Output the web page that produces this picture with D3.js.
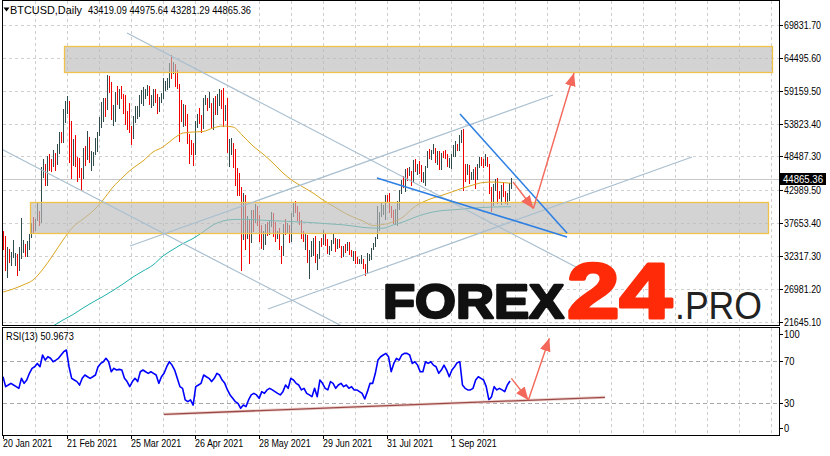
<!DOCTYPE html>
<html><head><meta charset="utf-8">
<script src="https://cdn.jsdelivr.net/npm/d3@7/dist/d3.min.js"></script>
<style>
html,body{margin:0;padding:0;background:#fff;}
svg{display:block;}
text{font-family:"Liberation Sans",Arial,sans-serif;}
</style></head><body>
<svg id="chart" width="830" height="456"></svg>
<script>
// ---------- DATA (prices in thousands USD, one bar per day from 20 Jan 2021) ----------
const opens = [
35.8,35.5,30.8,33.0,32.1,32.3,32.3,32.5,30.4,33.4,34.3,34.3,
33.1,33.5,35.5,37.6,36.9,38.3,39.2,38.9,46.4,46.5,44.9,47.9,47.4,47.1,48.7,47.9,49.1,52.1,51.6,55.9,55.9,57.5,54.2,48.8,49.7,47.1,46.3,46.2,
45.1,49.6,48.4,50.5,48.4,48.8,48.9,51.2,52.2,54.8,56.0,57.8,57.3,61.2,59.0,55.6,56.9,58.9,57.6,58.3,58.1,57.4,54.5,54.4,52.8,51.7,55.0,55.8,55.8,57.6,58.7,
58.9,59.0,59.0,57.1,58.2,59.1,57.6,56.0,58.0,58.1,59.8,59.8,59.8,63.5,62.9,63.2,61.5,60.1,56.3,55.7,56.5,53.8,51.7,51.1,50.1,49.0,54.0,55.0,54.8,53.6,
57.7,57.8,56.6,57.2,53.2,57.5,56.4,57.4,58.8,58.2,55.9,56.7,49.2,49.7,49.9,46.8,46.4,43.5,42.9,37.0,40.7,37.3,37.5,34.7,38.7,38.4,39.3,38.4,35.7,34.6,35.7,
37.3,36.7,37.6,39.2,36.9,35.5,35.8,33.6,33.4,37.4,36.7,37.3,35.6,39.1,40.5,40.1,38.3,38.1,35.8,35.5,35.6,31.7,32.5,33.7,34.7,31.6,32.2,34.6,34.4,35.9,
35.0,33.5,33.8,34.7,35.3,33.7,34.2,33.9,32.9,33.8,33.5,34.3,33.1,32.7,32.8,31.8,31.4,31.5,31.8,30.8,29.8,32.1,32.3,33.6,34.3,35.4,37.3,39.4,40.0,40.0,42.2,
41.5,39.9,39.2,38.2,39.7,40.9,42.8,44.6,43.8,46.3,45.6,45.6,44.4,47.8,47.1,47.1,45.9,44.7,44.8,46.7,49.3,48.9,49.3,49.5,47.7,48.9,47.0,49.1,48.9,48.8,47.0,
47.2,48.8,49.3,50.0,49.9,51.8,52.7,46.9,46.1,46.4,44.9,45.2,46.1,44.9,47.1,48.2,47.8,47.3,48.3,47.3,43.0,40.7,43.6,44.9,42.8,42.7,43.2,42.2,41.0,41.5,43.42];
const highs = [
36.4,35.6,33.8,33.4,32.9,34.9,32.8,32.6,33.8,38.5,34.9,34.3,
34.7,35.9,37.7,38.7,38.3,40.9,39.7,46.8,48.1,47.3,48.6,48.8,48.0,49.6,49.0,50.5,52.5,52.5,56.2,57.5,58.3,57.5,54.2,51.3,52.0,48.4,48.3,46.6,
49.8,50.2,52.6,51.7,49.3,49.2,51.4,52.4,54.9,57.3,58.0,58.0,61.7,61.6,60.5,56.9,58.9,60.0,59.4,59.9,58.6,58.4,55.8,57.2,53.4,55.1,56.6,56.6,58.4,59.3,59.8,
59.5,60.1,59.9,58.5,59.4,59.4,58.6,58.2,58.8,61.2,60.7,61.2,63.7,64.9,63.8,63.5,62.5,60.3,57.6,57.0,56.8,55.4,52.1,51.2,50.6,54.3,55.4,56.4,55.2,57.9,
58.4,57.9,58.9,57.2,57.9,58.3,58.6,59.5,59.2,59.6,56.8,57.9,51.3,51.4,50.6,49.7,46.6,45.8,43.5,42.5,42.2,38.8,38.3,39.8,39.8,40.8,40.4,38.9,37.3,36.4,37.5,
37.9,38.2,39.4,39.3,37.9,36.4,36.8,34.0,37.5,38.3,37.6,37.4,39.3,41.0,41.3,40.5,39.5,38.2,36.4,36.1,35.7,33.3,34.8,35.2,35.5,32.6,34.7,35.2,36.5,36.0,
35.0,33.9,34.9,35.9,35.3,35.0,35.0,33.9,34.0,34.2,34.6,34.6,33.3,33.1,33.2,32.2,31.9,32.4,31.9,31.0,32.8,32.6,33.6,34.4,35.4,40.5,39.5,40.9,40.6,42.3,42.3,
42.6,40.4,39.8,39.9,41.3,43.0,44.7,45.3,46.4,46.6,46.7,46.2,47.9,48.1,47.3,47.8,47.1,45.9,47.0,49.3,49.7,49.5,50.5,49.8,49.3,49.3,49.1,49.3,49.6,48.9,48.2,
48.9,50.3,51.0,50.5,51.9,52.8,52.9,47.3,47.3,47.1,45.9,46.4,46.8,47.2,48.4,48.4,48.1,48.8,48.4,47.3,43.6,44.0,44.9,45.0,42.9,43.9,44.3,42.8,42.6,44.1,44.98];
const lows = [
33.4,30.1,28.9,31.4,30.9,32.1,30.8,29.3,30.0,32.0,32.9,32.3,
32.3,33.4,35.4,36.2,36.6,38.2,37.4,37.9,45.2,43.8,43.9,46.3,46.2,47.0,46.3,47.2,49.0,50.9,50.9,54.0,55.5,47.6,45.0,47.1,46.9,44.5,45.1,43.0,
45.0,47.1,48.1,47.6,46.3,47.1,48.9,49.3,51.9,53.3,54.3,55.0,56.2,58.9,54.6,53.6,54.2,57.0,56.3,57.9,55.6,53.7,53.0,52.5,50.5,51.5,54.0,54.7,55.1,57.1,56.9,
58.0,58.4,57.0,56.5,56.8,57.4,55.5,55.8,57.3,57.9,59.2,59.4,59.8,61.3,62.1,60.0,59.6,51.0,54.2,53.4,53.6,50.6,47.5,48.8,47.1,48.8,53.3,53.9,52.4,53.1,
57.0,56.1,56.5,53.1,52.9,55.3,55.4,56.9,56.3,53.5,54.4,49.2,46.9,48.8,46.7,43.9,42.2,42.3,30.0,35.0,33.5,35.3,31.1,34.6,36.4,37.9,37.3,34.8,33.6,33.5,34.2,
35.7,35.9,37.2,35.6,34.8,35.3,33.4,31.1,32.4,35.9,36.0,34.6,34.8,38.8,39.5,38.2,37.5,35.2,34.8,33.4,31.3,28.8,32.3,32.4,31.3,30.2,32.0,33.9,34.3,34.1,
32.8,32.7,33.3,34.5,33.2,33.6,33.8,32.1,32.3,33.0,33.3,32.7,32.3,31.6,31.2,31.1,31.2,31.2,30.4,29.3,29.5,31.7,31.9,33.4,33.9,35.3,36.5,38.8,39.2,38.3,41.1,
39.5,38.7,37.6,37.5,37.4,39.9,42.5,43.5,42.9,44.7,45.4,43.8,44.3,46.1,45.6,45.8,44.5,44.3,43.9,46.7,48.3,48.1,49.1,47.6,47.2,46.4,46.5,48.4,48.2,46.9,46.7,
46.6,48.6,48.5,49.5,49.5,50.9,43.0,44.5,45.6,44.2,44.8,44.8,43.4,44.8,46.8,47.1,46.8,47.1,46.9,42.5,39.6,40.6,43.1,40.9,41.7,40.8,42.1,40.9,40.8,41.4,43.28];
const closes = [
35.5,30.8,33.0,32.1,32.3,32.3,32.5,30.4,33.4,34.3,34.3,33.1,
33.5,35.5,37.6,36.9,38.3,39.2,38.9,46.4,46.5,44.9,47.9,47.4,47.1,48.7,47.9,49.1,52.1,51.6,55.9,55.9,57.5,54.2,48.8,49.7,47.1,46.3,46.2,45.1,
49.6,48.4,50.5,48.4,48.8,48.9,51.2,52.2,54.8,56.0,57.8,57.3,61.2,59.0,55.6,56.9,58.9,57.6,58.3,58.1,57.4,54.5,54.4,52.8,51.7,55.0,55.8,55.8,57.6,58.7,58.9,
59.0,59.0,57.1,58.2,59.1,57.6,56.0,58.0,58.1,59.8,59.8,59.8,63.5,62.9,63.2,61.5,60.1,56.3,55.7,56.5,53.8,51.7,51.1,50.1,49.0,54.0,55.0,54.8,53.6,57.7,
57.8,56.6,57.2,53.2,57.5,56.4,57.4,58.8,58.2,55.9,56.7,49.2,49.7,49.9,46.8,46.4,43.5,42.9,37.0,40.7,37.3,37.5,34.7,38.7,38.4,39.3,38.4,35.7,34.6,35.7,37.3,
36.7,37.6,39.2,36.9,35.5,35.8,33.6,33.4,37.4,36.7,37.3,35.6,39.1,40.5,40.1,38.3,38.1,35.8,35.5,35.6,31.7,32.5,33.7,34.7,31.6,32.2,34.6,34.4,35.9,35.0,
33.5,33.8,34.7,35.3,33.7,34.2,33.9,32.9,33.8,33.5,34.3,33.1,32.7,32.8,31.8,31.4,31.5,31.8,30.8,29.8,32.1,32.3,33.6,34.3,35.4,37.3,39.4,40.0,40.0,42.2,41.5,
39.9,39.2,38.2,39.7,40.9,42.8,44.6,43.8,46.3,45.6,45.6,44.4,47.8,47.1,47.1,45.9,44.7,44.8,46.7,49.3,48.9,49.3,49.5,47.7,48.9,47.0,49.1,48.9,48.8,47.0,47.2,
48.8,49.3,50.0,49.9,51.8,52.7,46.9,46.1,46.4,44.9,45.2,46.1,44.9,47.1,48.2,47.8,47.3,48.3,47.3,43.0,40.7,43.6,44.9,42.8,42.7,43.2,42.2,41.0,41.5,43.8,44.87];

// moving averages (USD), sampled at bar indices
const maFastBars = [0,5,10,15,20,25,30,35,40,45,50,55,60,65,70,75,80,85,90,95,100,105,110,115,120,125,130,135,140,145,150,155,160,165,170,175,180,185,190,195,200,205,210,215,220,225,230,235,240,245,250,254];
const maFast = [26466,26953,27603,28415,30202,32475,34912,37023,38322,39622,41408,43520,45144,46606,47743,49205,50017,51316,52291,52453,52534,53103,53428,53265,51803,50179,48880,47418,45794,44494,43520,42545,41408,40434,39459,38647,37998,37267,37429,37835,38647,40109,41084,41733,42221,42789,43358,43845,44251,44332,44251,44121];
const maSlowBars = [25,30,35,40,45,50,55,60,65,70,75,80,85,90,95,100,105,110,115,120,125,130,135,140,145,150,155,160,165,170,175,180,185,190,195,200,205,210,215,220,225,230,235,240,245,250,254];
const maSlow = [20943,21918,22811,23867,24842,25735,26709,27765,28902,29877,30851,32313,33369,34343,35155,36211,37348,37998,38241,38274,38209,38128,38046,37981,37900,37819,37721,37608,37494,37380,37186,36958,36861,36828,37348,37835,38485,39053,39459,39703,39817,39947,40109,40190,40272,40304,40320];

// RSI(13), evenly sampled from first to last bar
const rsiValues = [
55.0,45.7,47.2,48.8,47.2,45.7,44.1,53.5,48.8,51.9, 58.2,62.9,64.4,67.5,64.4,75.4,70.6,73.8,72.3,69.1,
70.6,72.3,75.4,78.5,80.1,64.4,53.5,51.9,50.4,47.2, 53.5,56.6,55.0,53.5,55.0,56.6,64.4,67.5,69.1,72.3,
69.1,59.7,62.9,61.3,61.9,61.3,53.5,50.4,45.7,50.4, 53.5,50.4,59.7,61.3,59.7,58.2,59.7,58.2,56.6,48.8,
55.0,58.2,64.4,69.1,65.9,61.3,53.5,45.7,44.1,33.2, 31.6,33.2,28.4,45.7,47.2,48.8,56.6,55.0,53.5,50.4,
53.5,58.2,56.6,51.9,48.8,42.6,37.9,34.7,31.6,30.0, 25.3,28.4,26.9,33.2,37.9,39.4,37.9,34.7,41.0,39.4,
42.6,44.1,42.6,41.0,39.4,37.9,41.0,47.2,44.1,53.5, 51.9,48.8,47.2,42.6,44.1,39.4,37.9,36.3,44.1,36.3,
51.9,48.8,44.1,42.6,50.4,48.8,44.1,47.2,48.8,45.7, 47.2,44.1,45.7,42.6,42.6,41.0,39.4,34.1,41.0,48.8,
48.8,58.2,70.6,73.8,75.4,76.9,73.8,59.7,67.5,72.3, 70.6,75.4,76.9,76.9,75.4,67.5,69.1,65.9,59.7,59.7,
69.1,67.5,69.1,65.9,64.4,58.2,61.3,65.9,61.3,55.0, 61.3,64.4,68.2,69.1,47.2,44.1,42.6,42.6,44.1,51.9,
55.0,53.5,51.9,45.7,33.2,36.3,45.7,42.6,44.1,42.6, 41.0,47.2,51.0];
const rsiLevels = [70, 30];
const rsiTicks = [100, 70, 30, 0];

const priceTicks = [69831.70,64495.60,59159.50,53823.40,48487.30,42989.50,37653.40,32317.30,26981.20,21645.10];
const dateTickBars = [0,32,64,96,128,160,192,224];
const dateTickLabels = ["20 Jan 2021","21 Feb 2021","25 Mar 2021","26 Apr 2021","28 May 2021","29 Jun 2021","31 Jul 2021","1 Sep 2021"];
const lastPrice = 44865.36;
const headerSymbol = "BTCUSD,Daily";
const headerOHLC = "43419.09 44975.64 43281.29 44865.36";
const rsiCaption = "RSI(13) 50.9673";

// drawn objects (bar index, price)
const zones = [
  {b0: 30.6, b1: 384.5, top: 66421, bottom: 62198},
  {b0: 13.7, b1: 382.5, top: 41132, bottom: 36162}
];
const greyLines = [
  [[62, 68532], [286.5, 30526]],
  [[-1.5, 49805], [172, 20500]],
  [[132.5, 23705], [344.5, 48392]],
  [[63.5, 33937], [275, 58462]]
];
const blueLines = [
  [[228.5, 55376], [282, 36048]],
  [[187, 44981], [282, 35399]]
];
const priceArrows = [
  [[255, 44330], [265.2, 40027]],
  [[265.2, 40027], [285.5, 62036]]
];
const rsiArrows = [
  [[254.2, 53.5], [262.7, 33.1]],
  [[262.7, 33.1], [273.2, 91.1]]
];
const rsiTrend = [[80.5, 19.7], [301, 35.7]];

// ---------- LAYOUT ----------
const L = 3, R = 779, mTop = 1, mBot = 325, rTop = 328, rBot = 435;
const x = d3.scaleLinear().domain([0, 254]).range([3, 511]);
const y = d3.scaleLinear().domain([21645.1, 69831.7]).range([321.7, 25]);
const yr = d3.scaleLinear().domain([0, 100]).range([435.3, 328.8]);
const px = v => Math.round(v) + 0.5;

const svg = d3.select("#chart");
const defs = svg.append("defs");
defs.append("clipPath").attr("id", "cm").append("rect").attr("x", L).attr("y", mTop).attr("width", R - L).attr("height", mBot - mTop);
defs.append("clipPath").attr("id", "cr").append("rect").attr("x", L).attr("y", rTop).attr("width", R - L).attr("height", rBot - rTop);
function marker(id, color) {
  defs.append("marker").attr("id", id).attr("markerUnits", "userSpaceOnUse")
    .attr("viewBox", "0 0 12 10").attr("refX", 12).attr("refY", 5)
    .attr("markerWidth", 13).attr("markerHeight", 11).attr("orient", "auto")
    .append("path").attr("d", "M0,0 L12,5 L0,10 Z").attr("fill", color);
}
marker("arr", "#f3685a");

const gm = svg.append("g").attr("clip-path", "url(#cm)");
const gr = svg.append("g").attr("clip-path", "url(#cr)");

// grid
const gridBars = d3.range(1, 25).map(k => k * 16);
[[gm, mTop, mBot], [gr, rTop, rBot]].forEach(([g, t, b]) => {
  g.selectAll(null).data(gridBars).join("line")
    .attr("x1", d => px(x(d))).attr("x2", d => px(x(d))).attr("y1", t).attr("y2", b)
    .attr("stroke", "#cfcfcf").attr("stroke-dasharray", "3,3").attr("shape-rendering", "crispEdges");
});
gm.selectAll(null).data(priceTicks).join("line")
  .attr("x1", L).attr("x2", R).attr("y1", d => px(y(d))).attr("y2", d => px(y(d)))
  .attr("stroke", "#cfcfcf").attr("stroke-dasharray", "3,3").attr("shape-rendering", "crispEdges");

// bid line
gm.append("line").attr("x1", L).attr("x2", R).attr("y1", px(y(lastPrice))).attr("y2", px(y(lastPrice)))
  .attr("stroke", "#c8c8c8").attr("shape-rendering", "crispEdges");

// candles
gm.selectAll(null).data(closes.map((c, i) => i)).join("line")
  .attr("x1", i => px(x(i))).attr("x2", i => px(x(i)))
  .attr("y1", i => Math.round(y(Math.max(highs[i], opens[i], closes[i]) * 1000)))
  .attr("y2", i => Math.round(y(Math.min(lows[i], opens[i], closes[i]) * 1000)) + 1)
  .attr("stroke", i => closes[i] >= opens[i] ? "#2f4b4b" : "#ee0000")
  .attr("stroke-width", 1).attr("shape-rendering", "crispEdges");

// moving averages
const maLine = d3.line().x(d => x(d[0])).y(d => y(d[1])).curve(d3.curveMonotoneX);
gm.append("path").attr("d", maLine(maFastBars.map((b, k) => [b, maFast[k]])))
  .attr("fill", "none").attr("stroke", "#daa520").attr("stroke-width", 1);
gm.append("path").attr("d", maLine(maSlowBars.map((b, k) => [b, maSlow[k]])))
  .attr("fill", "none").attr("stroke", "#20b2aa").attr("stroke-width", 1);

// zones
zones.forEach(z => {
  gm.append("rect")
    .attr("x", px(x(z.b0))).attr("y", px(y(z.top)))
    .attr("width", Math.round(x(z.b1) - x(z.b0))).attr("height", Math.round(y(z.bottom) - y(z.top)))
    .attr("fill", "#bababa").attr("fill-opacity", 0.64)
    .attr("stroke", "#f0c24a").attr("stroke-width", 1.3);
});

// trend lines
const pl = d3.line().x(d => x(d[0])).y(d => y(d[1]));
greyLines.forEach(l => gm.append("path").attr("d", pl(l)).attr("fill", "none").attr("stroke", "#a9bfcf").attr("stroke-width", 1.2));
blueLines.forEach(l => gm.append("path").attr("d", pl(l)).attr("fill", "none").attr("stroke", "#2f80e2").attr("stroke-width", 1.6));
priceArrows.forEach(l => gm.append("path").attr("d", pl(l)).attr("fill", "none").attr("stroke", "#f3685a").attr("stroke-width", 1.4).attr("marker-end", "url(#arr)"));

// RSI panel
gr.selectAll(null).data(rsiLevels).join("line")
  .attr("x1", L).attr("x2", R).attr("y1", d => px(yr(d))).attr("y2", d => px(yr(d)))
  .attr("stroke", "#a8a8a8").attr("stroke-dasharray", "4,3").attr("shape-rendering", "crispEdges");
const rl = d3.line().x(d => x(d[0])).y(d => yr(d[1]));
const nR = rsiValues.length;
gr.append("path").attr("d", rl(rsiValues.map((v, k) => [k * 253.5 / (nR - 1), v])))
  .attr("fill", "none").attr("stroke", "#0000ff").attr("stroke-width", 1.6).attr("stroke-linejoin", "round");
gr.append("path").attr("d", rl(rsiTrend)).attr("fill", "none").attr("stroke", "#ecd2ce").attr("stroke-width", 3);
gr.append("path").attr("d", rl(rsiTrend)).attr("fill", "none").attr("stroke", "#9c4a48").attr("stroke-width", 1.3);
rsiArrows.forEach(l => gr.append("path").attr("d", rl(l)).attr("fill", "none").attr("stroke", "#f3685a").attr("stroke-width", 1.4).attr("marker-end", "url(#arr)"));

// frames
const fr = svg.append("g").attr("stroke", "#000").attr("fill", "none").attr("shape-rendering", "crispEdges");
fr.append("path").attr("d", `M2.5,0.5H${R + 0.5}V${mBot + 0.5}H2.5Z`);
fr.append("path").attr("d", `M2.5,${rTop - 0.5}H${R + 0.5}V${rBot + 0.5}H2.5Z`);

// condensed text helpers
function fit(sel, w) { sel.attr("textLength", w).attr("lengthAdjust", "spacingAndGlyphs"); return sel; }
function squeeze(sel, f) { sel.each(function () { const w = this.getComputedTextLength(); d3.select(this).attr("textLength", w * f).attr("lengthAdjust", "spacingAndGlyphs"); }); }

// price axis
const ax = svg.append("g");
ax.selectAll(null).data(priceTicks).join("line")
  .attr("x1", R).attr("x2", R + 4).attr("y1", d => px(y(d))).attr("y2", d => px(y(d)))
  .attr("stroke", "#000").attr("shape-rendering", "crispEdges");
const pt = ax.selectAll(null).data(priceTicks).join("text")
  .attr("x", R + 5).attr("y", d => y(d) + 4).attr("font-size", 11).attr("fill", "#000")
  .text(d => d.toFixed(2));
fit(pt, 37);
ax.append("rect").attr("x", R + 1).attr("y", Math.round(y(lastPrice)) - 6).attr("width", 46).attr("height", 12).attr("fill", "#000");
fit(ax.append("text").attr("x", R + 4).attr("y", y(lastPrice) + 4).attr("font-size", 11).attr("fill", "#fff").text(lastPrice.toFixed(2)), 40);

// rsi axis
const rsiTickY = d => d === 100 ? yr(d) + 5 : d === 0 ? yr(d) - 7 : yr(d);
ax.selectAll(null).data(rsiTicks).join("line")
  .attr("x1", R).attr("x2", R + 4)
  .attr("y1", d => px(rsiTickY(d))).attr("y2", d => px(rsiTickY(d)))
  .attr("stroke", "#000").attr("shape-rendering", "crispEdges");
const rt = ax.selectAll(null).data(rsiTicks).join("text")
  .attr("x", R + 5).attr("y", d => rsiTickY(d) + 4)
  .attr("font-size", 11).attr("fill", "#000").text(d => d);
squeeze(rt, 0.85);

// date axis
ax.selectAll(null).data(dateTickBars).join("line")
  .attr("x1", d => px(x(d))).attr("x2", d => px(x(d))).attr("y1", rBot).attr("y2", rBot + 4)
  .attr("stroke", "#000").attr("shape-rendering", "crispEdges");
const dt = ax.selectAll(null).data(dateTickBars).join("text")
  .attr("x", d => x(d)).attr("y", 447).attr("font-size", 10.5).attr("fill", "#000")
  .text((d, k) => dateTickLabels[k]);
squeeze(dt, 0.85);

// header
svg.append("path").attr("d", "M3.5,7.5H9.5L6.5,11.5Z").attr("fill", "#000");
fit(svg.append("text").attr("x", 10).attr("y", 14).attr("font-size", 11).text(headerSymbol), 72);
fit(svg.append("text").attr("x", 88).attr("y", 14).attr("font-size", 11).text(headerOHLC), 163);
squeeze(svg.append("text").attr("x", 6).attr("y", 340).attr("font-size", 11).text(rsiCaption), 0.84);

// watermark
const wm = svg.append("g").attr("font-family", "Lato, 'Open Sans', sans-serif");
fit(wm.append("text").attr("x", 383).attr("y", 318).attr("font-size", 48).attr("font-weight", 900)
  .attr("fill", "#111").attr("stroke", "#111").attr("stroke-width", 2.4).attr("stroke-linejoin", "round").text("FOREX"), 181);
fit(wm.append("text").attr("x", 567).attr("y", 318).attr("font-size", 77).attr("font-weight", 900)
  .attr("fill", "#ff2b08").attr("stroke", "#ff2b08").attr("stroke-width", 3.2).attr("stroke-linejoin", "round").text("24"), 105);
fit(wm.append("text").attr("x", 675).attr("y", 318.5).attr("font-size", 39).attr("font-weight", 300).attr("fill", "#222").text(".PRO"), 87);
</script>
</body></html>
